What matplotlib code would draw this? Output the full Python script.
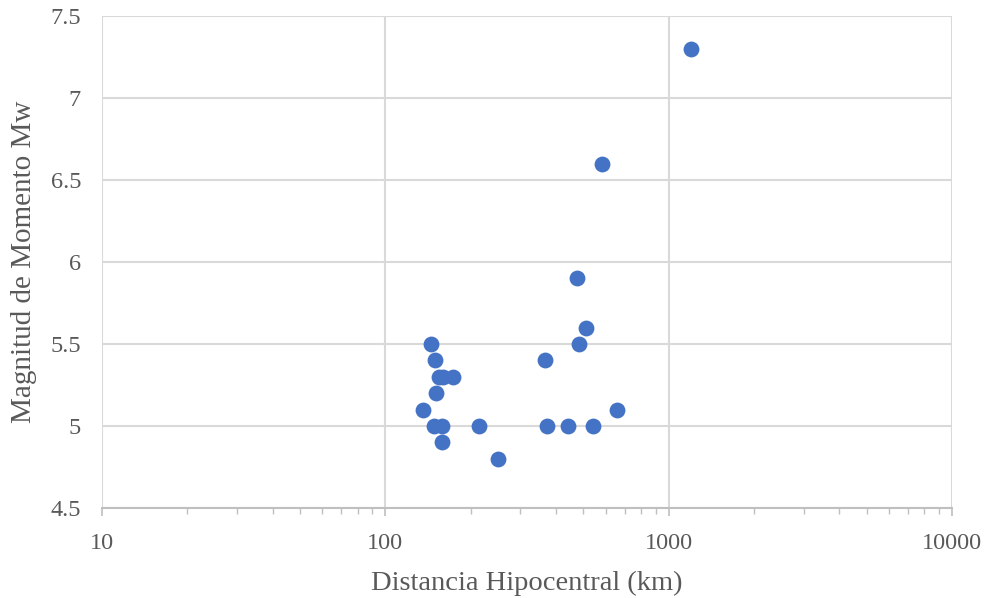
import numpy as np
import matplotlib.pyplot as plt
from matplotlib.ticker import LogLocator, FixedLocator, NullFormatter

# distancia hipocentral (km) y magnitud Mw
distancia = [1200, 580, 476, 513, 481, 365, 145, 150, 155, 160, 174, 151, 136,
             148, 159, 215, 371, 440, 543, 655, 159, 249]
magnitud = [7.3, 6.6, 5.9, 5.6, 5.5, 5.4, 5.5, 5.4, 5.3, 5.3, 5.3, 5.2, 5.1,
            5.0, 5.0, 5.0, 5.0, 5.0, 5.0, 5.1, 4.9, 4.8]

xticks = [10, 100, 1000, 10000]
yticks = [4.5, 5, 5.5, 6, 6.5, 7, 7.5]
ylabels = ["4.5", "5", "5.5", "6", "6.5", "7", "7.5"]

plt.rcParams['font.family'] = ['Liberation Serif', 'DejaVu Serif']

fig = plt.figure(figsize=(9.86, 5.98), dpi=100)
ax = fig.add_axes([0.1034, 0.1505, 0.862, 0.8227])

ax.scatter(distancia, magnitud, s=130, color="#4472C4", zorder=3, linewidths=0)

ax.set_xscale("log")
ax.set_xlim(10, 10000)
ax.set_ylim(4.5, 7.5)
ax.xaxis.set_major_locator(FixedLocator(xticks))
ax.set_xticklabels([str(t) for t in xticks])
ax.xaxis.set_minor_locator(LogLocator(base=10, subs=np.arange(2, 10)))
ax.xaxis.set_minor_formatter(NullFormatter())
ax.set_yticks(yticks)
ax.set_yticklabels(ylabels)

ax.grid(True, which="major", color="#d9d9d9", linewidth=1.5)
for s in ["top", "left", "right"]:
    ax.spines[s].set_visible(False)
ax.spines["bottom"].set_color("#bfbfbf")
ax.spines["bottom"].set_linewidth(1.5)

ax.tick_params(axis="x", which="major", length=6, width=1.2, color="#bfbfbf",
               labelsize=17.5, labelcolor="#595959", pad=12)
ax.tick_params(axis="x", which="minor", length=4, width=1, color="#bfbfbf")
ax.tick_params(axis="y", length=0, labelsize=17.5, labelcolor="#595959", pad=15)

ax.set_xlabel("Distancia Hipocentral (km)", fontsize=20.5, color="#595959", labelpad=12)
ax.set_ylabel("Magnitud de Momento Mw", fontsize=21, color="#595959", labelpad=9.5)

fig.savefig("out.png", dpi=100)
